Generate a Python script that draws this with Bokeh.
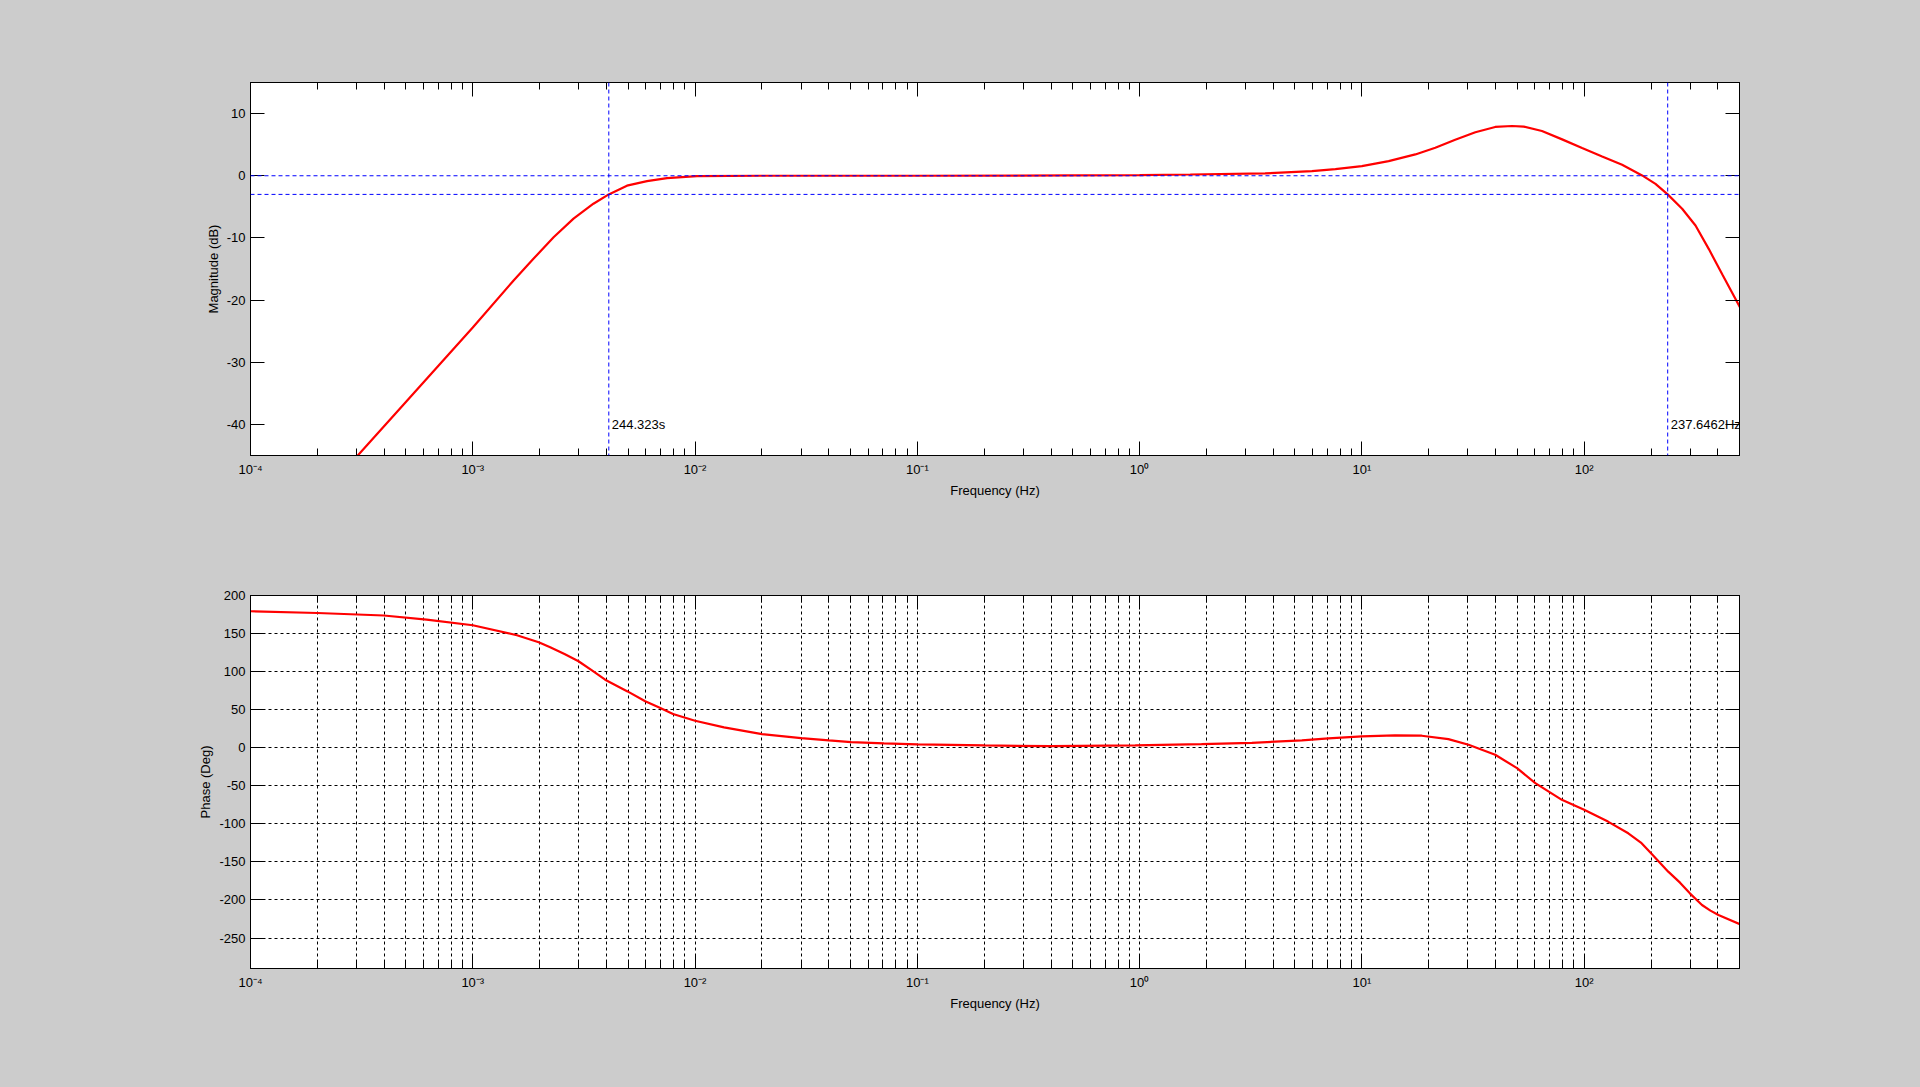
from bokeh.plotting import figure
from bokeh.layouts import column
from bokeh.models import (Range1d, LogAxis, LinearAxis, FixedTicker, Span, Label,
                          ColumnDataSource, CustomJSTickFormatter)
from bokeh.embed import file_html
from bokeh.resources import INLINE

# ---------------- data ----------------
mag_freq_hz = [2.9e-4, 5e-4, 1e-3, 1.53e-3, 1.87e-3, 2.31e-3, 2.84e-3, 3.49e-3, 4.09e-3,
               4.94e-3, 6.08e-3, 7.48e-3, 1.02e-2, 2e-2, 0.1, 0.5, 1.0, 1.69, 3.67, 4.8,
               5.96, 7.6, 10.0, 13.2, 17.4, 21.4, 26.3, 32.4, 39.8, 47.4, 53.5, 64.6,
               79.6, 97.9, 120.5, 148.2, 182.3, 209.4, 237.6, 276.0, 317.0, 364.0, 418.6, 505.0]
mag_db = [-45.8, -36.4, -24.4, -16.8, -13.4, -9.9, -6.9, -4.5, -3.0,
          -1.6, -0.87, -0.38, -0.06, 0.0, 0.0, 0.05, 0.1, 0.2, 0.37, 0.58,
          0.75, 1.07, 1.55, 2.36, 3.43, 4.5, 5.8, 7.0, 7.85, 8.0, 7.9, 7.2,
          5.85, 4.45, 3.1, 1.77, 0.05, -1.3, -3.0, -5.3, -8.0, -11.8, -15.9, -21.3]

phase_freq_hz = [1e-4, 2e-4, 3.98e-4, 6.2e-4, 1e-3, 1.58e-3, 1.98e-3, 2.23e-3, 2.6e-3,
                 2.99e-3, 3.45e-3, 3.94e-3, 4.97e-3, 5.97e-3, 6.98e-3, 7.96e-3, 0.01,
                 0.0135, 0.02, 0.03, 0.04, 0.0504, 0.0708, 0.1, 0.2, 0.4, 0.955, 1.9,
                 3.2, 5.37, 7.08, 10.0, 14.1, 18.6, 24.5, 30.2, 39.8, 49.9, 60.3, 79.4,
                 100.0, 128.0, 158.0, 180.0, 200.0, 239.0, 270.0, 299.0, 339.0, 370.0,
                 402.0, 505.0]
phase_deg = [179.3, 177.0, 173.7, 168.4, 160.9, 147.8, 138.6, 132.0, 122.7,
             113.6, 101.3, 89.4, 74.0, 61.0, 52.1, 44.3, 35.5,
             26.7, 17.9, 12.7, 9.6, 7.4, 5.7, 4.3, 3.0, 2.1, 3.0, 4.7,
             6.5, 9.6, 12.2, 14.9, 16.2, 15.8, 11.4, 3.9, -9.2, -26.8, -46.5, -68.4,
             -81.6, -97.0, -112.4, -124.5, -138.7, -162.8, -177.2, -191.3, -206.6, -214.0,
             -219.7, -232.1]

cursor_period_s = 244.323
cursor_freq_hz = 237.6462
cursor_level_db = -3.0
reference_db = 0.0
cursor_label_db = -40.0

x_decades = [1e-4, 1e-3, 1e-2, 1e-1, 1e0, 1e1, 1e2]
x_minor = [m * d for d in x_decades for m in range(2, 10)]
mag_yticks = [-40, -30, -20, -10, 0, 10]
phase_yticks = [-250, -200, -150, -100, -50, 0, 50, 100, 150, 200]

# ---------------- styling ----------------
FONT = "Liberation Sans"
GRAY = "#CCCCCC"
W = 1920

sup_formatter_code = """
const e = Math.round(Math.log10(tick));
const sup = {"-":"\u207b","0":"\u2070","1":"\u00b9","2":"\u00b2","3":"\u00b3","4":"\u2074",
             "5":"\u2075","6":"\u2076","7":"\u2077","8":"\u2078","9":"\u2079"};
return "10" + String(e).split("").map(c => sup[c]).join("");
"""


def style_axis(ax, ticks, minor=None, labels=True):
    ax.ticker = FixedTicker(ticks=ticks, minor_ticks=minor or [])
    ax.axis_line_color = "black"
    ax.major_tick_line_color = "black"
    ax.minor_tick_line_color = "black"
    ax.major_tick_in = 14
    ax.major_tick_out = 0
    ax.minor_tick_in = 7
    ax.minor_tick_out = 0
    ax.major_label_text_font = FONT
    ax.major_label_text_font_size = "13px"
    ax.major_label_text_color = "black"
    ax.axis_label_text_font = FONT
    ax.axis_label_text_font_size = "13px"
    ax.axis_label_text_font_style = "normal"
    ax.axis_label_text_color = "black"
    if not labels:
        ax.formatter = CustomJSTickFormatter(code="return '';")


def make_fig(height, border_top, border_bottom, y_range, yticks, ylabel):
    p = figure(width=W, height=height, x_axis_type="log",
               x_range=Range1d(1e-4, 500), y_range=y_range,
               output_backend="svg", toolbar_location=None,
               min_border_left=250, min_border_right=181,
               min_border_top=border_top, min_border_bottom=border_bottom)
    p.background_fill_color = "white"
    p.border_fill_color = GRAY
    p.outline_line_color = "black"
    p.outline_line_alpha = 1.0
    xa = p.xaxis[0]
    style_axis(xa, x_decades, x_minor)
    xa.formatter = CustomJSTickFormatter(code=sup_formatter_code)
    xa.major_label_standoff = 6
    xa.axis_label = "Frequency (Hz)"
    xa.axis_label_standoff = 3
    ya = p.yaxis[0]
    style_axis(ya, yticks)
    ya.formatter = CustomJSTickFormatter(code="return String(tick);")
    ya.major_label_standoff = 5
    ya.axis_label = ylabel
    ya.axis_label_standoff = 3
    top = LogAxis()
    style_axis(top, x_decades, x_minor, labels=False)
    p.add_layout(top, "above")
    right = LinearAxis()
    style_axis(right, yticks, labels=False)
    p.add_layout(right, "right")
    return p


# ---------------- magnitude ----------------
p1 = make_fig(525, 82, 70, Range1d(-45, 15), mag_yticks, "Magnitude (dB)")
p1.xgrid.visible = False
p1.ygrid.visible = False

for loc in (reference_db, cursor_level_db):
    p1.add_layout(Span(location=loc, dimension="width", line_color="#0000FF",
                       line_dash="4 3", line_width=1))
for loc in (1.0 / cursor_period_s, cursor_freq_hz):
    p1.add_layout(Span(location=loc, dimension="height", line_color="#0000FF",
                       line_dash="4 3", line_width=1))

p1.line(x="f", y="v", source=ColumnDataSource(dict(f=mag_freq_hz, v=mag_db)),
        line_color="#FF0000", line_width=2.2)

p1.add_layout(Label(x=1.0 / cursor_period_s, y=cursor_label_db, text="%.3fs" % cursor_period_s,
                    x_offset=3, text_baseline="middle", text_font=FONT,
                    text_font_size="13px", text_color="black"))
p1.add_layout(Label(x=cursor_freq_hz, y=cursor_label_db, text="%.4fHz" % cursor_freq_hz,
                    x_offset=3, text_baseline="middle", text_font=FONT,
                    text_font_size="13px", text_color="black"))

# ---------------- phase ----------------
p2 = make_fig(560, 70, 117, Range1d(-290, 200), phase_yticks, "Phase (Deg)")
for g in (p2.xgrid[0], p2.ygrid[0]):
    g.grid_line_color = "black"
    g.grid_line_dash = "3 3"
    g.grid_line_width = 1
    g.grid_line_alpha = 1.0
p2.xgrid[0].minor_grid_line_color = "black"
p2.xgrid[0].minor_grid_line_dash = "3 3"
p2.xgrid[0].minor_grid_line_alpha = 1.0

p2.line(x="f", y="v", source=ColumnDataSource(dict(f=phase_freq_hz, v=phase_deg)),
        line_color="#FF0000", line_width=2.2)

layout = column(p1, p2, spacing=0)
layout.styles = {"background-color": GRAY}

template = """
{% block postamble %}
<style>html, body { background-color: #CCCCCC; margin: 0; padding: 0; overflow: hidden; }</style>
{% endblock %}
"""

open("out.html", "w").write(file_html(layout, INLINE, template=template))
